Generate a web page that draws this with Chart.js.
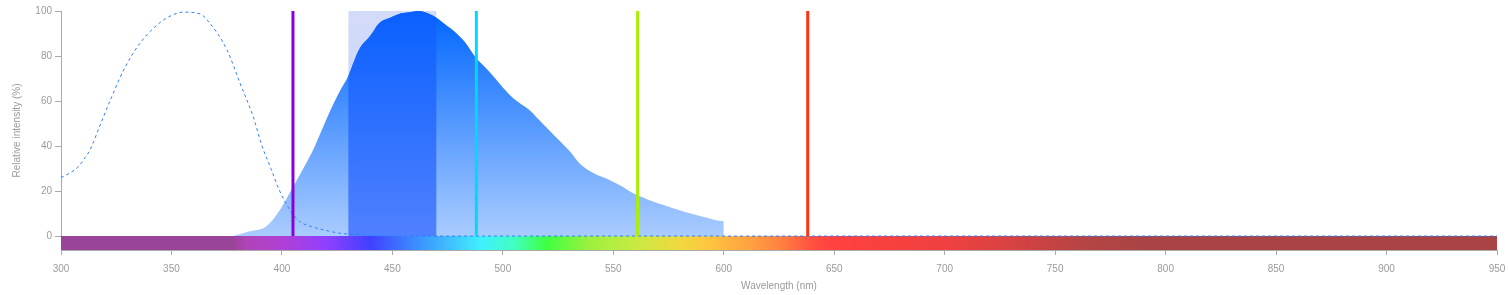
<!DOCTYPE html>
<html lang="en">
<head>
  <meta charset="UTF-8">
  <title>Spectra</title>
  <script src="https://cdn.jsdelivr.net/npm/chart.js@4.4.0/dist/chart.umd.min.js"></script>
  <style>
    html, body { margin: 0; padding: 0; background: #fff; }
    #wrap { width: 1508px; height: 295px; }
  </style>
</head>
<body>
  <div id="wrap"><canvas id="myChart"></canvas></div>

  <script>
    // excitation spectrum (dashed)
    const exNm  = [300, 304, 308, 311, 313, 318, 323, 329, 336, 345, 350, 355, 363, 367, 375, 381, 387, 391, 395, 399, 404, 408, 414, 420, 426, 433, 440, 450, 950]
    const exVal = [26, 28, 31, 35, 38, 50, 62, 75, 86, 95, 98, 99.5, 98.7, 95, 83, 68, 53, 40, 30, 20, 11, 6.5, 4, 2.5, 1.3, 0.7, 0.3, 0, 0]

    // emission spectrum (filled)
    const emNm  = [378, 385, 393, 399, 404, 408, 414, 418, 422, 426, 430, 435, 440, 444, 449, 454, 458, 462, 466, 470, 474, 478, 483, 488, 492, 496, 500, 505, 512, 516, 521, 526, 530, 535, 541, 548, 554, 559, 565, 572, 580, 585, 591, 600, 600]
    const emVal = [0, 2, 4.4, 11.5, 20, 27, 38, 47, 56, 64, 71, 83, 89, 94.6, 97, 99, 99.5, 100, 99, 97, 94, 91, 86, 79, 75, 70.7, 66, 61, 56, 52, 47, 42, 38, 32, 28, 25, 22, 19, 16.5, 14, 11.5, 10, 8.5, 6.6, 0]

    // band pass filter
    const filterBand = [430, 470]

    // laser lines
    const laserNm = [405, 488, 561, 638]
    const laserColors = ['#8a00dd', '#00d8ff', '#aaee00', '#ff3010']

    const yTicks = [0, 20, 40, 60, 80, 100]

    // visible spectrum colour stops (style only)
    const specStops = [
      [300, '#9a4499'], [378, '#9a4499'], [384, '#b044b8'], [400, '#b040d4'], [420, '#9040ff'],
      [440, '#4040ff'], [460, '#3a8cff'], [476, '#40c0ff'], [490, '#40f0ff'], [505, '#40ffc0'],
      [520, '#40ff40'], [540, '#a0f040'], [560, '#c8ea40'], [580, '#f0d840'], [592, '#fcc840'],
      [612, '#ffa040'], [626, '#ff8040'], [640, '#ff5040'], [650, '#ff4040'], [700, '#f04040'],
      [730, '#d84242'], [760, '#b84444'], [790, '#aa4444'], [950, '#aa4444']
    ]

    const pts = (xs, ys) => xs.map((x, i) => ({x: x, y: ys[i]}))
    const emPts = pts(emNm, emVal)
    const inFilter = emPts.filter(p => p.x >= filterBand[0] && p.x <= filterBand[1])

    function vGrad(ctx, top, bottom) {
      const chart = ctx.chart
      const area = chart.chartArea
      if (!area) return bottom
      const y = chart.scales.y
      const g = chart.ctx.createLinearGradient(0, y.getPixelForValue(100), 0, y.getPixelForValue(0))
      g.addColorStop(0, top)
      g.addColorStop(1, bottom)
      return g
    }

    function specGrad(ctx) {
      const chart = ctx.chart
      if (!chart.chartArea) return '#aa4444'
      const x = chart.scales.x
      const x0 = x.getPixelForValue(300), x1 = x.getPixelForValue(950)
      const g = chart.ctx.createLinearGradient(x0, 0, x1, 0)
      specStops.forEach(s => g.addColorStop((x.getPixelForValue(s[0]) - x0) / (x1 - x0), s[1]))
      return g
    }

    const datasets = []

    laserNm.forEach((nm, i) => {
      datasets.push({
        data: [{x: nm, y: 0}, {x: nm, y: 100}],
        borderColor: laserColors[i],
        borderWidth: 3,
        pointRadius: 0,
        fill: false,
        order: 1
      })
    })

    datasets.push({
      data: pts(exNm, exVal),
      borderColor: '#2f7dff',
      borderWidth: 1,
      borderDash: [3, 3],
      pointRadius: 0,
      cubicInterpolationMode: 'monotone',
      fill: false,
      order: 2
    })

    datasets.push({
      data: inFilter,
      borderWidth: 0,
      borderColor: 'rgba(0,0,0,0)',
      backgroundColor: ctx => vGrad(ctx, '#0a60ff', '#5080ff'),
      pointRadius: 0,
      cubicInterpolationMode: 'monotone',
      fill: 'origin',
      order: 3
    })

    datasets.push({
      data: emPts,
      borderWidth: 0,
      borderColor: 'rgba(0,0,0,0)',
      backgroundColor: ctx => vGrad(ctx, '#0066ff', '#aaccff'),
      pointRadius: 0,
      cubicInterpolationMode: 'monotone',
      fill: 'origin',
      order: 4
    })

    datasets.push({
      data: [{x: filterBand[0], y: 100}, {x: filterBand[1], y: 100}],
      borderWidth: 0,
      borderColor: 'rgba(0,0,0,0)',
      backgroundColor: ctx => vGrad(ctx, '#d3dbf9', '#c6d0f8'),
      pointRadius: 0,
      fill: 'origin',
      order: 6
    })

    datasets.push({
      data: [{x: 300, y: 0}, {x: 950, y: 0}],
      borderWidth: 0,
      borderColor: 'rgba(0,0,0,0)',
      backgroundColor: specGrad,
      pointRadius: 0,
      fill: {value: -6.2},
      order: 5
    })

    const tickFont = {family: "'Liberation Sans', Arial, sans-serif", size: 10}

    new Chart(document.getElementById('myChart'), {
      type: 'line',
      data: {datasets: datasets},
      options: {
        responsive: true,
        maintainAspectRatio: false,
        animation: false,
        layout: {padding: {top: 11, right: 11, left: 11, bottom: 0}},
        plugins: {legend: {display: false}, tooltip: {enabled: false}},
        scales: {
          x: {
            type: 'linear',
            min: 300,
            max: 950,
            afterFit: s => { s.height = 45; s.paddingLeft = 0; s.paddingRight = 0 },
            ticks: {stepSize: 50, color: '#9a9a9a', font: tickFont, padding: 8, maxRotation: 0},
            grid: {drawOnChartArea: false, drawTicks: true, tickLength: 5, color: '#aaa'},
            border: {color: '#aaa'},
            title: {display: true, text: 'Wavelength (nm)', color: '#9a9a9a', font: tickFont, padding: {top: 0, bottom: 3}}
          },
          y: {
            type: 'linear',
            min: -6.2,
            max: 100,
            afterFit: s => { s.width = 50; s.paddingTop = 0; s.paddingBottom = 0 },
            afterBuildTicks: s => { s.ticks = yTicks.map(v => ({value: v})) },
            ticks: {color: '#9a9a9a', font: tickFont, padding: 3},
            grid: {drawOnChartArea: false, drawTicks: true, tickLength: 6, color: '#aaa'},
            border: {color: '#aaa'},
            title: {display: true, text: 'Relative intensity (%)', color: '#9a9a9a', font: tickFont, padding: 0}
          }
        }
      }
    })
  </script>
</body>
</html>
